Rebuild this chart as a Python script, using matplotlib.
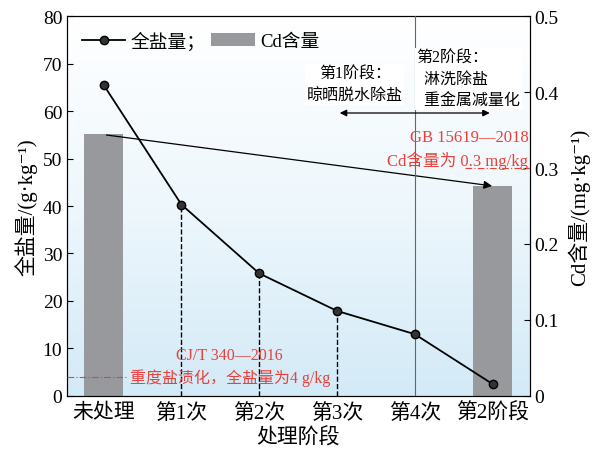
import matplotlib.pyplot as plt
import numpy as np
from matplotlib.colors import LinearSegmentedColormap
from matplotlib.lines import Line2D
from matplotlib.patches import Patch

plt.rcParams['font.family'] = ['Liberation Serif', 'Noto Sans CJK SC', 'DejaVu Serif']

# data
stages = ['未处理', '第1次', '第2次', '第3次', '第4次', '第2阶段']
salt = [65.5, 40.3, 25.8, 17.9, 13.0, 2.5]
cd_idx = [0, 5]
cd_val = [0.345, 0.276]

x = np.arange(len(stages))
xl = (-0.47, 5.48)

fig, ax = plt.subplots(figsize=(5.94, 4.52), dpi=100)
fig.subplots_adjust(left=0.113, right=0.892, top=0.962, bottom=0.122)
ax2 = ax.twinx()

# background gradient + Cd bars on right axis
cmap = LinearSegmentedColormap.from_list('bg', ['#d3eaf7', '#eef7fc', '#ffffff'])
grad = np.linspace(0, 1, 256).reshape(-1, 1)
ax2.imshow(grad, aspect='auto', cmap=cmap, origin='lower',
           extent=[xl[0], xl[1], 0, 0.5], zorder=0)
ax2.bar(cd_idx, cd_val, width=0.5, color='#97999c', zorder=1)

# salt line
ax.plot(x, salt, '-', color='black', lw=1.3, marker='o', ms=6,
        mfc='#333333', mec='black', zorder=5)
for i in [1, 2, 3]:
    ax.plot([x[i], x[i]], [0, salt[i]], '--', color='black', lw=1.0, zorder=4)

# stage divider
ax.axvline(4, color='#666666', lw=0.8, zorder=3)

# reference lines
ax.plot([xl[0], 0.3], [4, 4], color='#e8413c', lw=0.8, ls=(0, (6, 2, 1, 2)), zorder=4)
ax2.plot([4.65, xl[1]], [0.3, 0.3], color='#e8413c', lw=0.8, ls=(0, (6, 2, 1, 2)), zorder=4)

# trend arrow
ax2.annotate('', xy=(5.03, 0.276), xytext=(0.0, 0.344),
             arrowprops=dict(arrowstyle='-|>', color='black', lw=0.9,
                             mutation_scale=12), zorder=6)
# stage span arrow
ax.annotate('', xy=(5.0, 59.6), xytext=(3.0, 59.6),
            arrowprops=dict(arrowstyle='<|-|>', color='black', lw=0.9,
                            mutation_scale=10), zorder=6)

ax.text(3.23, 65.6, '第1阶段：\n晾晒脱水除盐', ha='center', va='center',
        fontsize=11.5, linespacing=1.5, zorder=7,
        bbox=dict(facecolor='white', edgecolor='none', pad=1))
ax.text(4.02, 66.8, '第2阶段：\n  淋洗除盐\n  重金属减量化', ha='left', va='center',
        fontsize=11.5, linespacing=1.45, zorder=7,
        bbox=dict(facecolor='white', edgecolor='none', pad=1))

ax.text(5.46, 52.0, 'GB 15619—2018\nCd含量为 0.3 mg/kg', ha='right', va='center',
        fontsize=12, color='#e8413c', linespacing=1.35, zorder=7)
ax.text(1.62, 6.2, 'CJ/T 340—2016\n重度盐渍化，全盐量为4 g/kg', ha='center', va='center',
        fontsize=11.5, color='#e8413c', linespacing=1.4, zorder=7)

ax.set_xticks(x)
ax.set_xticklabels(stages, fontsize=15)
ax.tick_params(axis='x', length=0, pad=5)
ax.set_yticks(np.arange(0, 81, 10))
ax.tick_params(axis='y', direction='in', labelsize=14, length=4)
ax2.set_yticks([0, 0.1, 0.2, 0.3, 0.4, 0.5])
ax2.set_yticklabels(['0', '0.1', '0.2', '0.3', '0.4', '0.5'])
ax2.tick_params(axis='y', direction='in', labelsize=14, length=4)

ax.set_xlabel('处理阶段', fontsize=15, labelpad=3)
ax.set_ylabel('全盐量/(g·kg⁻¹)', fontsize=15, labelpad=4)
ax2.set_ylabel('Cd含量/(mg·kg⁻¹)', fontsize=15, labelpad=6)

ax.set_xlim(*xl)
ax.set_ylim(0, 80)
ax2.set_xlim(*xl)
ax2.set_ylim(0, 0.5)

# legend
h1 = Line2D([], [], color='black', lw=1.3, marker='o', ms=6, mfc='#333333', mec='black')
h2 = Patch(facecolor='#97999c', edgecolor='none')
ax.legend([h1, h2], ['全盐量；', 'Cd含量'], loc='upper left', ncol=2, frameon=False,
          fontsize=13.5, handlelength=2.3, handletextpad=0.3, columnspacing=0.3,
          borderaxespad=0.5, borderpad=0.3)

ax.set_zorder(ax2.get_zorder() + 1)
ax.patch.set_visible(False)

fig.savefig('out.png', dpi=100)
